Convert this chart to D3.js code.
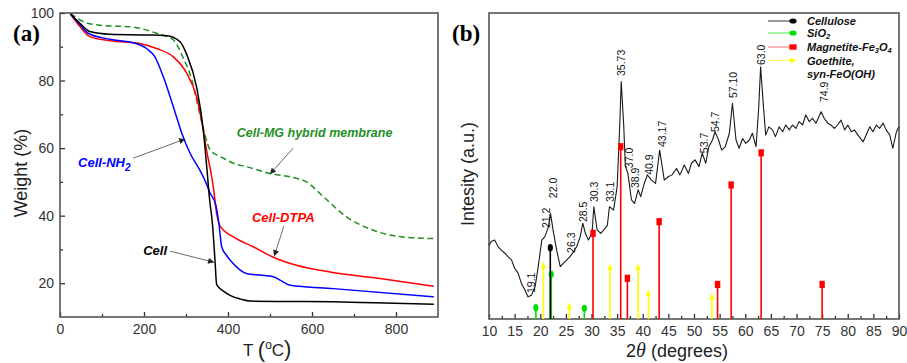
<!DOCTYPE html>
<html>
<head>
<meta charset="utf-8">
<script src="https://cdn.jsdelivr.net/npm/d3@7"></script>
<style>
  body { margin: 0; background: #fff; }
  svg text { font-family: "Liberation Sans", Arial, sans-serif; }
</style>
</head>
<body>
<svg id="chart" width="907" height="363"></svg>
<script>
// ---- (a) TGA curves: temperature (°C) / weight (%)
const cellT = [25, 48, 71, 119, 200, 254, 286, 302, 325, 341, 349, 356, 363, 369, 373, 390, 405, 430, 452, 550, 650, 750, 890];
const cellW = [99.7, 96.9, 94.5, 93.7, 93.5, 93.3, 91.5, 87.6, 78.2, 65.5, 55, 45, 37.5, 26.8, 19.6, 17.6, 16.4, 15.3, 14.7, 14.6, 14.5, 14.2, 13.8];

const dtpaT = [25, 48, 71, 119, 190, 230, 270, 302, 325, 337, 349, 365, 373, 381, 413, 460, 508, 563, 643, 762, 890];
const dtpaW = [99.7, 95.9, 93, 91.8, 91, 89.5, 87, 82.1, 75.2, 68.3, 59.4, 48.5, 40.6, 37, 33.7, 30.8, 27.7, 25.3, 23.3, 21.4, 19.1];

const nh2T = [25, 48, 67, 119, 175, 206, 226, 246, 270, 290, 310, 333, 345, 357, 371, 378, 385, 395, 409, 444, 476, 508, 524, 548, 651, 890];
const nh2W = [99.7, 96.5, 94, 92.2, 91.2, 89.5, 87, 81.1, 72.2, 64.4, 58.4, 53.5, 50.5, 46.8, 43.1, 38, 30.8, 28.5, 26.3, 22.9, 22.4, 21.9, 20.9, 19.4, 18.4, 16];

const mgT = [25, 56, 95, 175, 230, 270, 290, 314, 333, 345, 357, 373, 389, 413, 444, 500, 555, 587, 627, 683, 746, 802, 890];
const mgW = [99.9, 97.4, 96.4, 95.8, 94, 92, 87.6, 80.1, 70, 64, 59.5, 58, 57, 55.5, 54.5, 52.5, 51.3, 50, 45.6, 39.6, 35.7, 33.9, 33.2];

const tTicks = [0, 200, 400, 600, 800];
const tMinor = [100, 300, 500, 700];
const wTicks = [20, 40, 60, 80, 100];
const wMinor = [30, 50, 70, 90];

// ---- (b) XRD pattern: 2θ (degrees) / intensity (a.u.)
const xrdTheta = [10.0, 10.45, 11.1, 11.8, 12.4, 13.1, 13.7, 14.4, 15.0, 15.7, 16.3, 17.0, 17.6, 18.3, 19.0, 19.6, 20.3, 20.9, 21.6, 22.0, 22.5, 23.2, 23.9, 24.5, 25.2, 25.8, 26.5, 27.1, 27.8, 28.3, 28.8, 29.4, 30.1, 30.45, 31.1, 31.8, 32.4, 33.1, 33.5, 34.3, 35.0, 35.5, 35.8, 36.3, 36.6, 37.1, 37.8, 38.4, 39.1, 39.6, 40.3, 40.9, 41.7, 42.5, 43.3, 44.2, 44.96, 45.7, 46.6, 47.25, 48.1, 48.9, 49.5, 50.2, 50.98, 51.6, 52.3, 52.9, 53.6, 54.1, 54.8, 55.4, 56.1, 56.9, 57.5, 58.2, 58.8, 59.5, 60.1, 60.8, 61.4, 62.1, 62.6, 63.0, 63.6, 64.0, 64.6, 65.3, 65.9, 66.6, 67.3, 67.9, 68.6, 69.2, 69.9, 70.5, 71.2, 71.8, 72.5, 73.1, 73.8, 74.8, 75.4, 76.1, 76.7, 77.4, 78.0, 78.7, 79.4, 80.0, 80.7, 81.3, 82.0, 83.0, 83.6, 84.3, 84.9, 85.6, 86.2, 86.9, 87.5, 88.2, 88.8, 89.5, 90.0];
const xrdInt = [24.0, 25.3, 25.8, 23.6, 22.5, 21.5, 20.4, 19.3, 16.6, 14.9, 11.7, 9.5, 7.3, 7.8, 10.6, 17.1, 25.8, 26.9, 30.2, 34.5, 29.1, 22.5, 17.1, 18.2, 19.3, 20.4, 22.0, 23.6, 26.9, 31.3, 28.0, 25.8, 28.0, 36.7, 29.1, 28.0, 29.1, 30.7, 36.7, 35.6, 43.2, 62.8, 77.6, 62.8, 50.0, 47.6, 38.9, 37.8, 42.2, 40.0, 44.3, 47.1, 45.4, 44.3, 55.2, 45.4, 46.5, 47.1, 49.2, 47.1, 50.3, 47.6, 50.9, 52.0, 49.8, 54.2, 50.9, 56.3, 58.5, 61.2, 58.5, 55.2, 56.3, 60.7, 70.5, 58.5, 55.8, 59.0, 57.4, 58.5, 60.7, 56.3, 68.3, 82.4, 68.3, 60.1, 62.8, 61.8, 59.6, 62.8, 61.2, 63.4, 61.8, 63.4, 62.3, 64.5, 63.4, 66.7, 64.5, 65.6, 64.0, 67.7, 65.6, 64.0, 63.4, 62.3, 63.4, 65.0, 61.8, 63.4, 61.2, 61.8, 60.1, 57.9, 60.1, 62.8, 61.2, 63.4, 62.3, 64.0, 61.8, 60.1, 55.8, 61.2, 62.8];

// reference sticks (2θ, relative height)
const celluloseTheta = [21.96];
const celluloseInt = [23.3];
const sio2Theta = [19.15, 22.15, 28.6];
const sio2Int = [3.7, 14.6, 3.5];
const magnetiteTheta = [30.3, 35.7, 37.0, 43.2, 54.6, 57.25, 63.1, 75.0];
const magnetiteInt = [28.0, 56.3, 13.3, 31.8, 11.3, 43.8, 54.3, 11.3];
const goethiteTheta = [20.6, 25.7, 33.6, 39.1, 41.1, 53.5];
const goethiteInt = [17.6, 4.2, 16.9, 16.9, 8.4, 7.3];

// peak labels: text, 2θ and intensity where the label starts
const peakText = ["19.1", "21.2", "22.0", "26.3", "28.5", "30.3", "33.1", "35.73", "37.0", "38.9", "40.9", "43.17", "53.7", "54.7", "57.10", "63.0", "74.9"];
const peakTheta = [18.3, 21.2, 22.5, 26.1, 28.4, 30.6, 33.7, 35.8, 37.45, 38.6, 41.2, 43.8, 52.0, 54.1, 57.7, 63.1, 75.5];
const peakLevel = [8.5, 29.7, 39.5, 21.6, 31.7, 38.2, 38.2, 79.4, 49.3, 42.8, 47.1, 56.2, 54.2, 61.1, 72.2, 83.0, 70.9];

const thetaTicks = d3.range(10, 91, 5);
const thetaMinor = d3.range(12.5, 90, 5);

const svg = d3.select("#chart");
const axisCol = "#333";

svg.append("defs").append("marker")
  .attr("id", "arr")
  .attr("viewBox", "0 0 10 10")
  .attr("refX", 10).attr("refY", 5)
  .attr("markerWidth", 7).attr("markerHeight", 6)
  .attr("markerUnits", "userSpaceOnUse")
  .attr("orient", "auto")
  .append("path").attr("d", "M0,0L10,5L0,10z").attr("fill", "#222");

// ================= panel (a)
const ga = { l: 60, r: 438, t: 13, b: 317 };
const x = d3.scaleLinear().domain([0, 900]).range([ga.l, ga.r]);
const y = d3.scaleLinear().domain([10, 100]).range([ga.b, ga.t]);

const pa = svg.append("g");

function styleAxis(g) {
  g.select(".domain").remove();
  g.selectAll("line").attr("stroke", axisCol).attr("stroke-width", 1.3);
  g.selectAll("text").attr("fill", "#333").style("font-size", "14px");
}

pa.append("g").attr("transform", `translate(0,${ga.b})`)
  .call(d3.axisBottom(x).tickValues(tTicks).tickSize(-5).tickPadding(7))
  .call(styleAxis);
pa.append("g").attr("transform", `translate(0,${ga.b})`)
  .call(d3.axisBottom(x).tickValues(tMinor).tickSize(-3).tickFormat(""))
  .call(styleAxis);
pa.append("g").attr("transform", `translate(${ga.l},0)`)
  .call(d3.axisLeft(y).tickValues(wTicks).tickSize(-5).tickPadding(6))
  .call(styleAxis);
pa.append("g").attr("transform", `translate(${ga.l},0)`)
  .call(d3.axisLeft(y).tickValues(wMinor).tickSize(-3).tickFormat(""))
  .call(styleAxis);

pa.append("rect")
  .attr("x", ga.l).attr("y", ga.t)
  .attr("width", ga.r - ga.l).attr("height", ga.b - ga.t)
  .attr("fill", "none").attr("stroke", "#555").attr("stroke-width", 1.6);

const tga = d3.line().x(d => x(d[0])).y(d => y(d[1])).curve(d3.curveMonotoneX);

const curves = [
  { t: mgT, w: mgW, col: "#1f8f1f", dash: "6,3.5" },
  { t: dtpaT, w: dtpaW, col: "#ff0000" },
  { t: nh2T, w: nh2W, col: "#0000ff" },
  { t: cellT, w: cellW, col: "#000" }
];
curves.forEach(c => {
  pa.append("path")
    .datum(d3.zip(c.t, c.w))
    .attr("fill", "none")
    .attr("stroke", c.col)
    .attr("stroke-width", 1.5)
    .attr("stroke-dasharray", c.dash || null)
    .attr("d", tga);
});

// annotations
const notes = [
  { txt: "Cell-MG hybrid membrane", col: "#1f8f1f", at: [421, 63.3], from: [555, 60], to: [500, 52.3], size: 12.5 },
  { txt: "Cell-NH", sub: "2", col: "#0000ff", at: [43, 54.4], from: [174, 57], to: [298, 62.7], size: 13 },
  { txt: "Cell", col: "#000", at: [198, 28.3], from: [262, 29.5], to: [367, 26.2], size: 13 },
  { txt: "Cell-DTPA", col: "#ff0000", at: [457, 38.1], from: [533, 36.9], to: [510, 28], size: 13 }
];
notes.forEach(n => {
  const t = pa.append("text")
    .attr("x", x(n.at[0])).attr("y", y(n.at[1]))
    .attr("fill", n.col)
    .style("font-size", n.size + "px")
    .style("font-weight", "bold").style("font-style", "italic")
    .text(n.txt);
  if (n.sub) t.append("tspan").attr("dy", 4).style("font-size", "10px").text(n.sub);
  pa.append("line")
    .attr("x1", x(n.from[0])).attr("y1", y(n.from[1]))
    .attr("x2", x(n.to[0])).attr("y2", y(n.to[1]))
    .attr("stroke", "#444").attr("stroke-width", 0.8)
    .attr("marker-end", "url(#arr)");
});

pa.append("text").attr("x", 13).attr("y", 41)
  .style("font-family", "'Liberation Serif', 'Times New Roman', serif")
  .style("font-size", "23px").style("font-weight", "bold").text("(a)");

pa.append("text")
  .attr("transform", `translate(27,${(ga.t + ga.b) / 2 + 8}) rotate(-90)`)
  .attr("text-anchor", "middle").attr("fill", "#222")
  .style("font-size", "18px").text("Weight (%)");

const tl = pa.append("text").attr("x", 243).attr("y", 356).attr("fill", "#222").style("font-size", "17px");
tl.append("tspan").text("T ");
tl.append("tspan").style("font-size", "22px").attr("dy", 1).text("(");
tl.append("tspan").attr("dy", -8).style("font-size", "12px").text("o");
tl.append("tspan").attr("dy", 7).text("C");
tl.append("tspan").style("font-size", "22px").text(")");

// ================= panel (b)
const gb = { l: 489, r: 899, t: 13, b: 319 };
const xb = d3.scaleLinear().domain([10, 90]).range([gb.l, gb.r]);
const yb = d3.scaleLinear().domain([0, 100]).range([gb.b, gb.t]);

const pb = svg.append("g");

pb.append("g").attr("transform", `translate(0,${gb.b})`)
  .call(d3.axisBottom(xb).tickValues(thetaTicks).tickSize(-5).tickPadding(7))
  .call(styleAxis);
pb.append("g").attr("transform", `translate(0,${gb.b})`)
  .call(d3.axisBottom(xb).tickValues(thetaMinor).tickSize(-3).tickFormat(""))
  .call(styleAxis);

pb.append("rect")
  .attr("x", gb.l).attr("y", gb.t)
  .attr("width", gb.r - gb.l).attr("height", gb.b - gb.t)
  .attr("fill", "none").attr("stroke", "#555").attr("stroke-width", 1.6);

pb.append("path")
  .datum(d3.zip(xrdTheta, xrdInt))
  .attr("fill", "none").attr("stroke", "#1a1a1a").attr("stroke-width", 1.1)
  .attr("stroke-linejoin", "round")
  .attr("d", d3.line().x(d => xb(d[0])).y(d => yb(d[1])));

// marker shapes
function mark(g, kind, cx, cy, col) {
  if (kind === "ell") {
    g.append("ellipse").attr("cx", cx).attr("cy", cy).attr("rx", 2.6).attr("ry", 3.6).attr("fill", col);
  } else if (kind === "sq") {
    g.append("rect").attr("x", cx - 2.7).attr("y", cy - 3.6).attr("width", 5.4).attr("height", 7.2).attr("fill", col);
  } else {
    g.append("path").attr("d", `M${cx},${cy - 4}L${cx + 2.6},${cy + 3}L${cx - 2.6},${cy + 3}z`).attr("fill", col);
  }
}
function mark2(g, kind, cx, cy, col) {
  // right-pointing version for the legend
  if (kind === "tri") {
    g.append("path").attr("d", `M${cx + 4},${cy}L${cx - 3},${cy - 2.6}L${cx - 3},${cy + 2.6}z`).attr("fill", col);
  } else if (kind === "ell") {
    g.append("ellipse").attr("cx", cx).attr("cy", cy).attr("rx", 3.6).attr("ry", 2.6).attr("fill", col);
  } else {
    g.append("rect").attr("x", cx - 3.6).attr("y", cy - 2.7).attr("width", 7.2).attr("height", 5.4).attr("fill", col);
  }
}

const sticks = [
  { th: goethiteTheta, v: goethiteInt, col: "#ffff00", kind: "tri" },
  { th: sio2Theta, v: sio2Int, col: "#00dd00", kind: "ell" },
  { th: celluloseTheta, v: celluloseInt, col: "#000", kind: "ell" },
  { th: magnetiteTheta, v: magnetiteInt, col: "#ff0000", kind: "sq" }
];
sticks.forEach(s => {
  const g = pb.append("g");
  d3.zip(s.th, s.v).forEach(([th, v]) => {
    g.append("line")
      .attr("x1", xb(th)).attr("x2", xb(th))
      .attr("y1", yb(0)).attr("y2", yb(v))
      .attr("stroke", s.col).attr("stroke-width", 1.6);
    mark(g, s.kind, xb(th), yb(v), s.col);
  });
});

// peak labels
d3.range(peakText.length).forEach(i => {
  pb.append("text")
    .attr("transform", `translate(${xb(peakTheta[i])},${yb(peakLevel[i])}) rotate(-90)`)
    .attr("dy", "0.35em").attr("fill", "#111")
    .style("font-size", "10.5px")
    .text(peakText[i]);
});

// legend
const legend = [
  { name: "Cellulose", col: "#555", mcol: "#000", kind: "ell" },
  { name: "SiO", sub: "2", col: "#66ee66", mcol: "#00dd00", kind: "ell" },
  { name: "Magnetite-Fe", sub: "3", tail: "O", sub2: "4", col: "#ff8888", mcol: "#ff0000", kind: "sq" },
  { name: "Goethite,", col: "#ffff66", mcol: "#ffff00", kind: "tri" }
];
const lg = pb.append("g");
const legY = [21, 33, 47, 60.5];
const legFont = "11px";
legend.forEach((e, i) => {
  const ly = legY[i];
  lg.append("line").attr("x1", 768).attr("x2", 792).attr("y1", ly).attr("y2", ly)
    .attr("stroke", e.col).attr("stroke-width", 1.2);
  mark2(lg, e.kind, 793, ly, e.mcol);
  const t = lg.append("text").attr("x", 807).attr("y", ly + 4)
    .style("font-size", legFont).style("font-weight", "bold").style("font-style", "italic").attr("fill", "#111");
  t.append("tspan").text(e.name);
  if (e.sub) t.append("tspan").attr("dy", 1.5).style("font-size", "7.5px").text(e.sub);
  if (e.tail) t.append("tspan").attr("dy", -1.5).text(e.tail);
  if (e.sub2) t.append("tspan").attr("dy", 1.5).style("font-size", "7.5px").text(e.sub2);
});
lg.append("text").attr("x", 807).attr("y", 78)
  .style("font-size", legFont).style("font-weight", "bold").style("font-style", "italic").attr("fill", "#111")
  .text("syn-FeO(OH)");

pb.append("text").attr("x", 452).attr("y", 41)
  .style("font-family", "'Liberation Serif', 'Times New Roman', serif")
  .style("font-size", "23px").style("font-weight", "bold").text("(b)");

pb.append("text")
  .attr("transform", `translate(474,174) rotate(-90)`)
  .attr("text-anchor", "middle").attr("fill", "#222")
  .style("font-size", "18px").text("Intesity (a.u.)");

const xl = pb.append("text").attr("x", 677).attr("y", 357).attr("text-anchor", "middle")
  .attr("fill", "#222").style("font-size", "18px");
xl.append("tspan").text("2");
xl.append("tspan").style("font-style", "italic").style("font-family", "'Liberation Serif', serif").style("font-size", "20px").text("θ");
xl.append("tspan").text(" (degrees)");
</script>
</body>
</html>
